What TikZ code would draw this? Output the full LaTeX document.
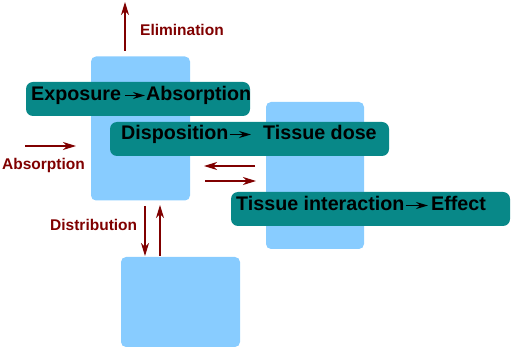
\documentclass[tikz,border=0pt]{standalone}
\usepackage{fontspec}
\setmainfont{Liberation Sans}
\usetikzlibrary{arrows.meta,calc}
\definecolor{skyb}{HTML}{88CCFF}
\definecolor{tealb}{RGB}{8,136,136}
\definecolor{dred}{RGB}{128,0,0}
\tikzset{
  bluebox/.style={fill=skyb, draw=none, rounded corners=5pt, inner sep=0pt},
  tealbox/.style={fill=tealb, draw=none, rounded corners=7pt, inner sep=0pt},
  bigtext/.style={anchor=base west, inner sep=0pt, font=\fontsize{19.7pt}{22pt}\selectfont\bfseries, text=black},
  redtext/.style={anchor=base west, inner sep=0pt, font=\fontsize{15.5pt}{18pt}\selectfont\bfseries, text=dred},
  redarrow/.style={draw=dred, line width=1.3pt, -{Stealth[length=13pt,width=8pt,inset=4pt]}},
  blackarrow/.style={draw=black, line width=1.4pt, -{Stealth[length=12pt,width=7pt,inset=4pt]}}
}
\begin{document}
\begin{tikzpicture}[x=1pt,y=-1pt]
\useasboundingbox (0,0) rectangle (511,347);
% light blue compartments
\node[bluebox, minimum width=99pt, minimum height=144pt] (blA) at (140.5,128.5) {};
\node[bluebox, minimum width=98pt, minimum height=147pt] (blB) at (315,175.5) {};
\node[bluebox, minimum width=119pt, minimum height=90pt] (blC) at (180.5,302) {};
% teal bars
\node[tealbox, minimum width=224pt, minimum height=34pt] (barA) at (138,99) {};
\node[tealbox, minimum width=279pt, minimum height=34pt] (barB) at (249.5,139) {};
\node[tealbox, minimum width=279pt, minimum height=34pt] (barC) at (370.5,209) {};
% bar texts
\node[bigtext] (exp) at (31,101) {Exposure};
\node[bigtext] (abs) at (146,101) {Absorption};
\draw[blackarrow] ($(exp.base east)+(4,-5.5)$) -- ($(abs.base west)+(-1,-5.5)$);
\node[bigtext] (disp) at (121,140) {Disposition};
\node[bigtext] (tdose) at (263,140) {Tissue dose};
\draw[blackarrow] ($(disp.base east)+(1,-5.5)$) -- ($(tdose.base west)+(-12,-5.5)$);
\node[bigtext] (tint) at (236,211) {Tissue interaction};
\node[bigtext] (eff) at (431,211) {Effect};
\draw[blackarrow] ($(tint.base east)+(1,-5.5)$) -- ($(eff.base west)+(-3,-5.5)$);
% red labels
\node[redtext] (elim) at (140,36) {Elimination};
\node[redtext] (absl) at (2,170) {Absorption};
\node[redtext] (dist) at (50,231) {Distribution};
% red arrows
\coordinate (e1) at (125,51);
\coordinate (e2) at (125,2);
\draw[redarrow] (e1) -- (e2);
\coordinate (a1) at (25,146);
\coordinate (a2) at (76,146);
\draw[redarrow] (a1) -- (a2);
\coordinate (m1) at (255,166);
\coordinate (m2) at (204,166);
\draw[redarrow] (m1) -- (m2);
\coordinate (m3) at (205,181);
\coordinate (m4) at (256,181);
\draw[redarrow] (m3) -- (m4);
\coordinate (d1) at (145,206);
\coordinate (d2) at (145,256);
\draw[redarrow] (d1) -- (d2);
\coordinate (d3) at (160,256);
\coordinate (d4) at (160,205);
\draw[redarrow] (d3) -- (d4);
\end{tikzpicture}
\end{document}
